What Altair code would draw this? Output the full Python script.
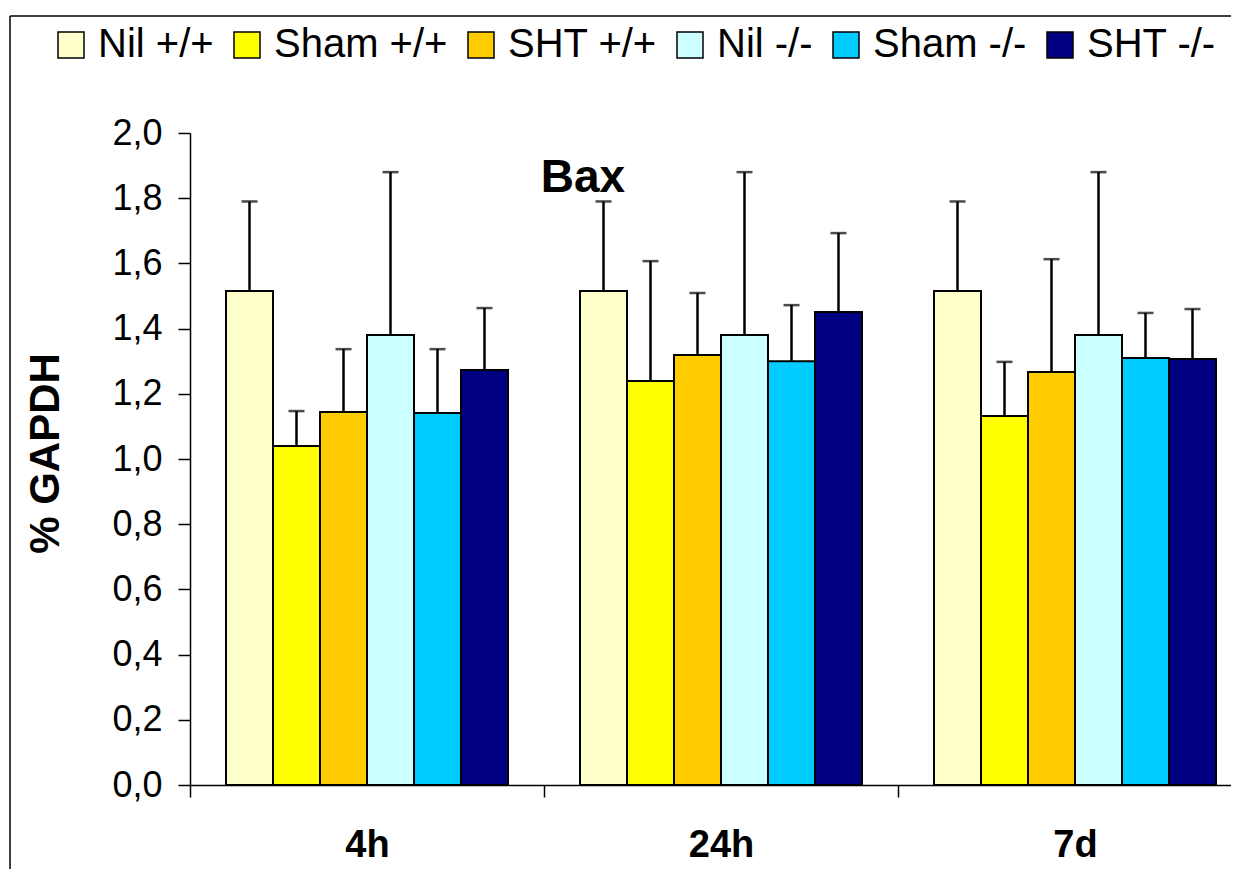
import altair as alt
import pandas as pd

FONT = "Liberation Sans, Arial, Helvetica, sans-serif"

times = ["4h", "24h", "7d"]
groups = ["Nil +/+", "Sham +/+", "SHT +/+", "Nil -/-", "Sham -/-", "SHT -/-"]
colors = ["#FFFFCC", "#FFFF00", "#FFCC00", "#CCFFFF", "#00CCFF", "#000080"]

mean_4h = [1.515, 1.040, 1.144, 1.380, 1.141, 1.273]
sd_4h = [0.275, 0.107, 0.193, 0.500, 0.196, 0.190]
mean_24h = [1.515, 1.239, 1.319, 1.380, 1.300, 1.451]
sd_24h = [0.275, 0.368, 0.190, 0.500, 0.172, 0.242]
mean_7d = [1.515, 1.132, 1.267, 1.380, 1.310, 1.307]
sd_7d = [0.275, 0.166, 0.346, 0.500, 0.138, 0.153]

y_ticks = [0.0, 0.2, 0.4, 0.6, 0.8, 1.0, 1.2, 1.4, 1.6, 1.8, 2.0]
chart_title = "Bax"

rows = []
for t, ms, ss in zip(times, [mean_4h, mean_24h, mean_7d], [sd_4h, sd_24h, sd_7d]):
    for g, m, s in zip(groups, ms, ss):
        rows.append({"time": t, "group": g, "mean": m, "sd": s})
df = pd.DataFrame(rows)

x_enc = alt.X(
    "time:N",
    sort=times,
    scale=alt.Scale(range=[0, 1062], paddingInner=0, paddingOuter=0),
    axis=alt.Axis(
        title=None, tickBand="extent", labelAngle=0, labelFont=FONT,
        labelFontSize=38, labelFontWeight="bold", labelColor="black",
        labelBaseline="middle", labelPadding=48, tickSize=12,
        tickColor="black", tickWidth=1.5, domainColor="black",
        domainWidth=1.5, grid=False,
    ),
)
xo_enc = alt.XOffset("group:N", sort=groups,
                     scale=alt.Scale(paddingInner=0, paddingOuter=0.766))
y_axis = alt.Axis(
    title="% GAPDH", values=y_ticks,
    labelExpr="replace(format(datum.value, '.1f'), '.', ',')",
    labelFont=FONT, labelFontSize=36, labelColor="black", labelPadding=16,
    tickSize=12, tickColor="black", tickWidth=1.5, domainColor="black",
    domainWidth=1.5, grid=False,
    titleFont=FONT, titleFontSize=42, titleFontWeight="bold",
    titleColor="black", titleAngle=-90, titleX=-145, titleY=320,
    titleAlign="center", titleBaseline="middle",
)
y_scale = alt.Scale(domain=[0, 2], nice=False)

base = alt.Chart(df).transform_calculate(upper="datum.mean + datum.sd")

bars = base.mark_bar(stroke="black", strokeWidth=2).encode(
    x=x_enc,
    xOffset=xo_enc,
    y=alt.Y("mean:Q", scale=y_scale, axis=y_axis),
    fill=alt.Fill(
        "group:N", sort=groups,
        scale=alt.Scale(domain=groups, range=colors),
        legend=alt.Legend(
            title=None, orient="none", legendX=-139, legendY=-108,
            direction="horizontal", columns=6, labelFont=FONT,
            labelFontSize=40, labelColor="black", labelLimit=0,
            labelOffset=7, columnPadding=13, symbolType="square",
            symbolSize=676, symbolStrokeColor="black",
            symbolStrokeWidth=1.5, symbolOpacity=1,
        ),
    ),
)

rules = base.mark_rule(color="black", strokeWidth=2.5).encode(
    x=x_enc, xOffset=xo_enc, y="mean:Q", y2="upper:Q"
)
caps = base.mark_tick(color="black", thickness=2.5, size=16).encode(
    x=x_enc, xOffset=xo_enc, y="upper:Q"
)

frame_src = alt.Chart(pd.DataFrame({"f": [0]}))
frame_left = frame_src.mark_rule(color="black", strokeWidth=1.5).encode(
    x=alt.value(-180), y=alt.value(-117), y2=alt.value(736)
)
frame_top = frame_src.mark_rule(color="black", strokeWidth=1.5).encode(
    x=alt.value(-180), x2=alt.value(1041), y=alt.value(-117)
)

title_text = alt.Chart(pd.DataFrame({"t": [chart_title]})).mark_text(
    font=FONT, fontSize=46, fontWeight="bold", color="black",
    align="center", baseline="middle",
).encode(text="t:N", x=alt.value(393), y=alt.value(45))

chart = alt.layer(
    frame_left, frame_top, bars, rules, caps, title_text
).properties(
    width=1041, height=652,
    background="white",
    autosize=alt.AutoSizeParams(type="none"),
    padding={"left": 182, "top": 125, "right": 0, "bottom": 84},
).configure_view(strokeWidth=0)

chart.save("out.html", embed_options={"renderer": "svg", "actions": False})
